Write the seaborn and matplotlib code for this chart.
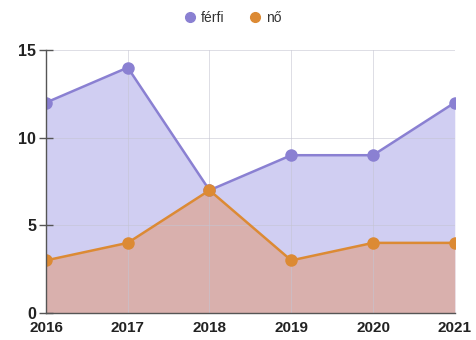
import matplotlib
matplotlib.use("Agg")
import matplotlib.pyplot as plt
from matplotlib.lines import Line2D
import seaborn as sns
import pandas as pd

years = [2016, 2017, 2018, 2019, 2020, 2021]
ferfi = [12, 14, 7, 9, 9, 12]
no = [3, 4, 7, 3, 4, 4]
series_names = ["férfi", "nő"]
y_ticks = [0, 5, 10, 15]

sns.set_style("white")
plt.rcParams['font.family'] = ['Liberation Sans', 'DejaVu Sans']

df = pd.DataFrame({"év": years, "férfi": ferfi, "nő": no})
long = df.melt(id_vars="év", var_name="nem", value_name="fő")

purple = "#8a80d2"
orange = "#dc8a34"

fig = plt.figure(figsize=(4.77, 3.4), dpi=100)
ax = fig.add_axes([0.0964, 0.0794, 0.857, 0.7735])

ax.fill_between(df["év"], df["férfi"], 0, color="#d0cef2", zorder=1, linewidth=0)
ax.fill_between(df["év"], df["nő"], 0, color="#d9b0ad", zorder=1.5, linewidth=0)

sns.lineplot(data=long, x="év", y="fő", hue="nem", palette=[purple, orange],
             marker="o", markersize=9, markeredgewidth=0, linewidth=1.8, ax=ax,
             zorder=3)
for ln in ax.lines:
    ln.set_clip_on(True)

ax.set_xlim(2016, 2021)
ax.set_ylim(0, 15)
ax.set_xticks(years)
ax.set_yticks(y_ticks)
ax.set_xlabel("")
ax.set_ylabel("")
ax.grid(True, color="#c4c4d2", linewidth=0.5, alpha=0.8, zorder=2)
ax.set_axisbelow(False)
for s in ["top", "right"]:
    ax.spines[s].set_visible(False)
for s in ["left", "bottom"]:
    ax.spines[s].set_color("#555555")
    ax.spines[s].set_linewidth(1.0)
    ax.spines[s].set_zorder(4)
ax.tick_params(axis="y", left=True, direction="inout", length=10, width=1,
               color="#555555", labelsize=11.5, pad=2)
ax.tick_params(axis="x", bottom=False, length=0, labelsize=11, pad=6)
for lab in ax.get_xticklabels() + ax.get_yticklabels():
    lab.set_color("#222222")
    lab.set_fontweight("bold")

hs = [Line2D([], [], marker="o", linestyle="", color=c, markersize=7) for c in [purple, orange]]
fig.legend(hs, series_names, loc="center", bbox_to_anchor=(0.485, 0.947), ncol=2,
           frameon=False, fontsize=10, handletextpad=0.2, columnspacing=1.6,
           handlelength=1.2, labelcolor="#333333")
ax.get_legend().remove()

fig.savefig("out.png", dpi=100)
